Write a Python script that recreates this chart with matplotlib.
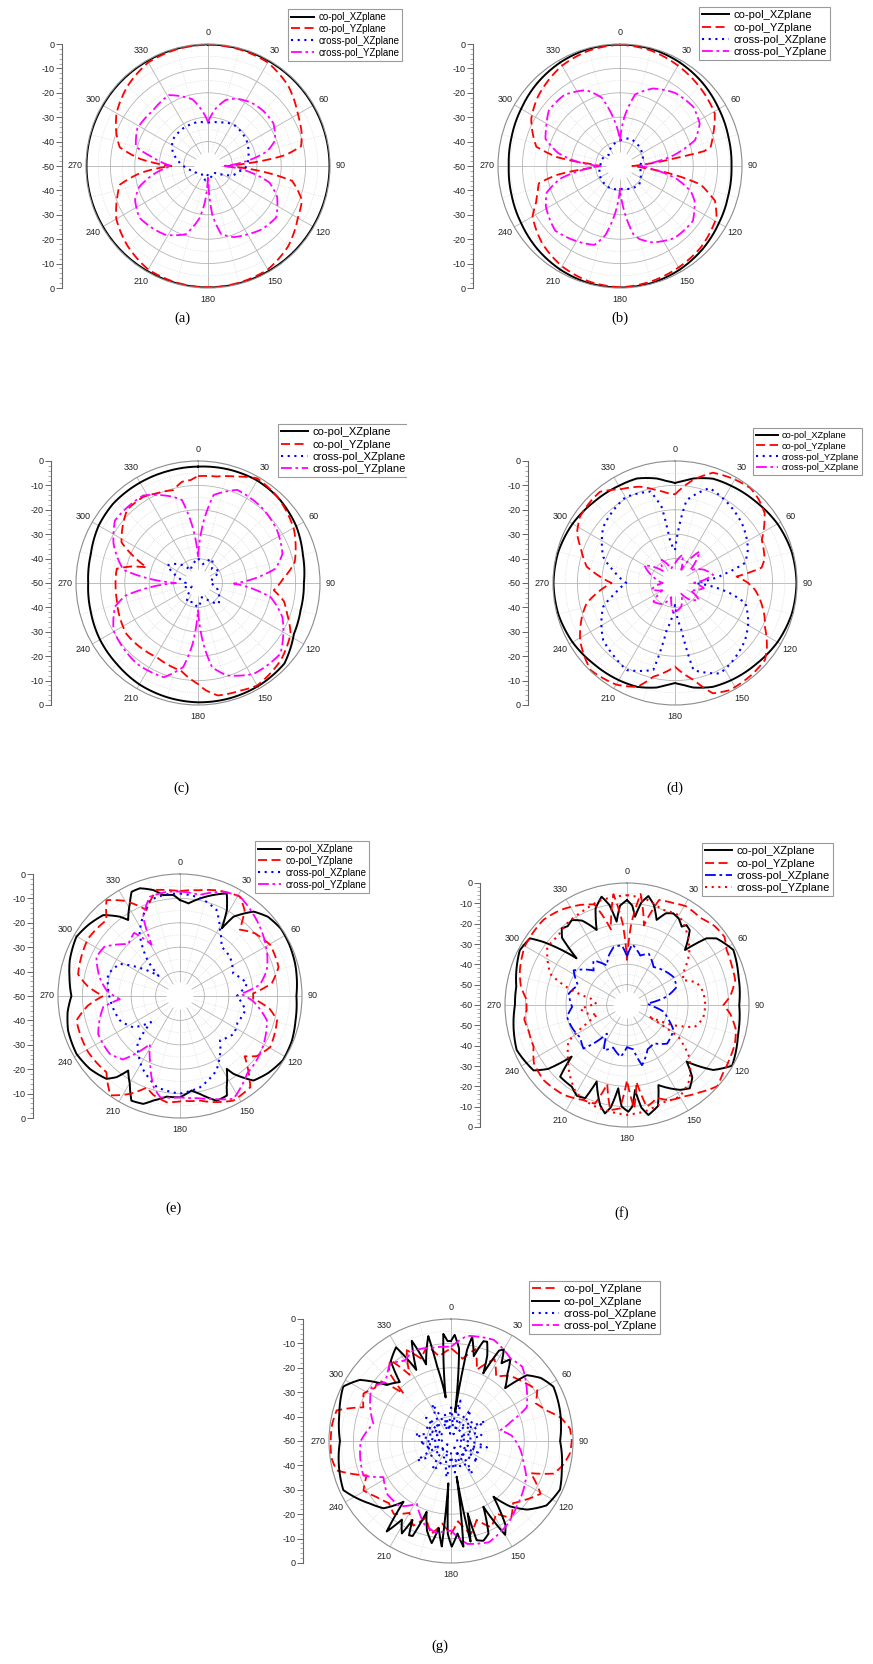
import numpy as np
import matplotlib
matplotlib.use('Agg')
import matplotlib.pyplot as plt
from matplotlib.ticker import MultipleLocator, FixedLocator
from matplotlib.patches import Rectangle, Circle

W, H = 873, 1664
plt.rcParams['font.family'] = ['Liberation Sans', 'DejaVu Sans']

ANGLE_TICKS = [0, 30, 60, 90, 120, 150, 180, 210, 240, 270, 300, 330]
ANGLE_LABELS = ['0', '30', '60', '90', '120', '150', '180', '210', '240', '270', '300', '330']
RADIAL_TICKS_50 = [-50, -40, -30, -20, -10, 0, 10, 20, 30, 40, 50]
RADIAL_LABELS_50 = ['0', '-10', '-20', '-30', '-40', '-50', '-40', '-30', '-20', '-10', '0']
RADIAL_TICKS_60 = [-60, -50, -40, -30, -20, -10, 0, 10, 20, 30, 40, 50, 60]
RADIAL_LABELS_60 = ['0', '-10', '-20', '-30', '-40', '-50', '-60', '-50', '-40', '-30', '-20', '-10', '0']

# ---------------------------------------------------------------- (a)
A_COXZ_DEG = [0, 30, 60, 90, 120, 150, 180, 210, 240, 270, 300, 330, 360]
A_COXZ_DB = [-0.2, -0.3, -0.3, -0.2, -0.3, -0.3, -0.2, -0.3, -0.3, -0.2, -0.3, -0.3, -0.2]
A_COYZ_DEG = [0, 15, 30, 45, 60, 70, 78, 82, 87, 91, 95, 100, 110, 120, 135, 150, 165, 180, 195, 210,
              225, 240, 252, 258, 264, 270, 276, 282, 290, 300, 315, 330, 345, 360]
A_COYZ_DB = [-0.3, -0.5, -1, -3.5, -7.5, -9.2, -11, -18, -37, -42, -30, -15, -9, -7.5, -3.5, -1, -0.5, -0.3,
             -0.5, -1, -3.5, -6.6, -11, -13, -22, -35, -22, -13, -10, -6.7, -3.5, -1, -0.5, -0.3]
A_CXXZ_DEG = [0, 15, 31, 45, 56, 67, 77, 90, 100, 110, 120, 135, 160, 180, 190, 210, 227, 250, 270, 282,
              292, 306, 326, 345, 360]
A_CXXZ_DB = [-32.2, -31.5, -30, -30.5, -31, -32, -33, -34, -37, -39, -43, -46, -45, -47, -44, -46, -45, -44,
             -40, -37, -34.4, -32, -31.5, -31.5, -32.2]
A_CXYZ_DEG = [0, 8, 15, 23, 35, 45, 57, 69, 76, 82, 90, 98, 105, 114, 127, 140, 149, 160, 169, 175, 180,
              185, 189, 198, 212, 233, 245, 253, 262, 270, 279, 285, 298, 315, 331, 347, 355, 360]
A_CXYZ_DB = [-32, -26, -22, -20, -18.5, -18, -18, -20.5, -25, -33, -44, -33, -24, -19, -15, -16, -17.5, -19,
             -21.5, -30, -46, -35, -28.6, -20.6, -16.8, -14.8, -17, -20.5, -28, -35, -27, -19.4, -17.2, -18,
             -16.8, -22, -28, -32]

# ---------------------------------------------------------------- (b)
B_COXZ_DEG = [0, 15, 30, 45, 60, 75, 90, 105, 120, 135, 150, 165, 180, 195, 210, 225, 240, 255, 270, 285,
              300, 315, 330, 345, 360]
B_COXZ_DB = [-0.2, -0.3, -1, -2, -3.2, -4, -4.3, -4, -3.2, -2, -1, -0.3, -0.2, -0.3, -1, -2, -3.2, -4, -4.4,
             -4, -3.2, -2, -1, -0.3, -0.2]
B_COYZ_DEG = [0, 15, 30, 45, 61, 71, 78, 80, 82, 86, 90, 95, 99, 103, 107, 110, 118, 135, 150, 165, 180,
              195, 210, 225, 240, 246, 252, 258, 262, 266, 270, 274, 278, 283, 290, 298, 310, 330, 345, 360]
B_COYZ_DB = [-0.3, -1, -2.5, -4, -5.6, -9.6, -12, -15, -28, -40, -45, -40, -28, -16, -12, -8.6, -5.2, -3, -2,
             -1, -0.3, -1, -2.5, -5, -8.6, -12.3, -14.5, -16, -24, -38, -42, -38, -24, -14.8, -12, -8.8, -6,
             -2.5, -1, -0.3]
B_CXXZ_DEG = [0, 20, 45, 70, 90, 110, 135, 160, 180, 200, 225, 250, 270, 290, 315, 340, 360]
B_CXXZ_DB = [-39.5, -38, -38.8, -40, -42, -41, -39, -40, -40.7, -40, -40.4, -41, -42, -42, -43.5, -41, -39.5]
B_CXYZ_DEG = [0, 5, 12, 23, 37, 51, 62, 71, 79, 85, 90, 96, 103, 110, 115, 127, 143, 157, 165, 169, 175,
              180, 185, 192, 198, 208, 225, 241, 250, 258, 265, 270, 276, 282, 290, 298, 308, 322, 336, 345,
              352, 360]
B_CXYZ_DB = [-39.5, -30, -20, -15.5, -12.5, -11.4, -13, -17.5, -28, -38, -42, -36, -26, -19, -16.3, -12.6,
             -13, -16, -19, -21.6, -32, -40.7, -32, -21, -16, -14.7, -12.5, -15.3, -18, -25, -36, -42, -32,
             -24, -17.5, -15.8, -13, -13, -16, -21, -30, -39.5]

# ---------------------------------------------------------------- (c)
C_COXZ_DEG = [0, 15, 30, 43, 60, 75, 90, 105, 118, 133, 149, 165, 180, 195, 210, 225, 240, 255, 270, 285,
              300, 313, 330, 345, 360]
C_COXZ_DB = [-2.3, -1.8, -1.5, -2, -3.5, -5.5, -6.6, -6.5, -5.5, -1.6, -1.1, -1, -1.1, -1.5, -2, -3, -3.6,
             -4.5, -5, -4.5, -3, -2.4, -2.5, -2.5, -2.3]
C_COYZ_DEG = [0, 10, 20, 29.5, 42.6, 52, 61, 71.5, 78, 87, 95.5, 102, 109, 118.8, 133, 150, 158.5, 170, 176,
              180, 191, 209, 234.5, 258, 268, 280, 284, 287, 292, 298, 316, 327.7, 335, 345, 351, 356, 360]
C_COYZ_DB = [-6.2, -5.7, -3.6, -0.7, -2, -3.5, -5, -7.8, -9.5, -15, -18.8, -14, -11.4, -6.7, -3.6, -1.5,
             -2.6, -3.2, -6, -8.6, -13.4, -15.2, -14, -16, -16.2, -16.2, -22, -28, -22, -14.5, -8.2, -8.2,
             -9.5, -10.6, -8, -7.7, -6.2]
C_CXXZ_DEG = [0, 15, 30, 45, 60, 75, 90, 105, 120, 135, 150, 165, 180, 195, 210, 225, 240, 255, 270, 285,
              300, 315, 330, 345, 360]
C_CXXZ_DB = [-40, -42, -38.5, -42, -40, -44, -45, -42, -40, -38, -42, -44, -40, -42, -41, -45, -47, -44, -45,
             -42, -35.5, -39, -44, -42, -40]
C_CXYZ_DEG = [0, 5, 10, 22.8, 40, 56, 71, 79.5, 91, 101, 112, 130.6, 148.5, 162.6, 170.5, 175, 180, 185, 190,
              200, 217, 240.7, 254, 260, 270, 280, 295, 307, 328, 344, 349, 355, 360]
C_CXYZ_DB = [-39.3, -25, -13.4, -8.6, -9.5, -11, -13.4, -17.7, -35.3, -19.7, -12.7, -5.5, -6.3, -10.3, -15,
             -25, -38.8, -25, -15, -8.9, -8.5, -10.3, -14.6, -19.7, -41, -19, -11.8, -7.4, -7.7, -13.3, -15.3,
             -28, -39.3]

# ---------------------------------------------------------------- (d)
D_COXZ_DEG = [0, 5, 10, 20, 30, 45, 60, 75, 90, 105, 120, 135, 150, 160, 170, 175, 180, 185, 190, 200, 210,
              225, 240, 255, 270, 285, 300, 315, 330, 340, 350, 355, 360]
D_COXZ_DB = [-9, -8, -6.5, -4.5, -4, -3, -1.5, -0.5, -0.2, -0.5, -1.5, -3, -4, -4.7, -6.5, -8, -9, -8, -6.5,
             -4.7, -4, -3, -1.5, -0.5, -0.2, -0.5, -1.5, -3, -4, -4.4, -6.5, -8, -9]
D_COYZ_DEG = [0, 10, 19, 30, 38.6, 45, 52, 63.6, 75, 80, 84, 90, 95, 101, 110, 116, 125, 130.5, 140, 153,
              161, 169, 180, 193, 200, 210, 224, 232, 239, 250, 257, 263, 270, 276, 280.5, 290, 297, 305, 315,
              320.6, 329.6, 340, 347, 355, 360]
D_COYZ_DB = [-13.7, -7.1, -2.2, -1, -0.3, -1.5, -3.4, -10.3, -12, -14, -24.6, -20, -17, -14.5, -11, -9, -4,
             -1.5, -1, -0.7, -2.2, -9.5, -15.7, -10.6, -4.7, -1.9, -0.3, -2.5, -4.6, -9.4, -12.8, -18, -24,
             -18, -13.2, -9, -4.9, -2.5, -1.8, -1.6, -5.5, -8, -10.6, -13, -13.7]
D_CXYZ_DEG = [0, 3, 8, 20, 35, 50.5, 65, 74, 79, 90, 100.6, 106, 118, 129, 145, 153.5, 168, 172, 180, 190,
              194, 209, 220, 231.5, 251.7, 260, 270, 281, 290, 308, 330, 345, 350, 353, 357, 360]
D_CXYZ_DB = [-36.5, -30, -15.7, -8.6, -11, -13.7, -17, -20.2, -28.4, -42.5, -27, -20, -16, -13, -10, -8.6,
             -13.5, -30.3, -41, -30.5, -13.3, -9.2, -11, -12.4, -19, -25, -30, -24.5, -18.7, -12.7, -9.4,
             -11.2, -18.3, -32, -36, -36.5]
D_CXXZ_DEG = [0, 15, 25, 38, 50, 65, 78, 90, 100, 115, 125, 138, 150, 165, 183, 195, 210, 229, 240, 255, 270,
              285, 300, 315, 330, 345, 360]
D_CXXZ_DB = [-42, -38, -44, -33.6, -42, -37, -34, -42, -38, -43, -38, -40.7, -45, -40, -37.6, -44, -40, -38.3,
             -44, -40, -45, -41, -35.5, -43, -39, -44, -42]

# ---------------------------------------------------------------- (e)
E_COXZ_DEG = [0, 5.2, 11.6, 18.3, 24.5, 28.6, 31.7, 34, 41.1, 48, 56.3, 65, 74.3, 90, 102, 112, 121.9, 131,
              139, 145.5, 147.3, 152.9, 154.8, 160.6, 168.4, 173, 180, 187.6, 194.3, 198.8, 204.9, 209.7,
              214.8, 218, 221.6, 231, 240.8, 252.9, 262, 270, 280, 288, 299.7, 308, 316.5, 322.8, 325.7,
              331.6, 335.1, 339.6, 345.8, 350.6, 356.2, 360]
E_COXZ_DB = [-10.7, -11.9, -9.2, -6.4, -3.8, -9.9, -17.4, -10.8, -4.1, -1.5, -0.3, -0.5, -1, -2.3, -1.6, -0.6,
             -0.3, -2, -4.1, -11.3, -14.5, -8, -4.9, -4.5, -9, -11, -8.5, -8.4, -5.8, -3.3, -2.7, -8.5, -12.8,
             -7.8, -4.6, -2.5, -1.4, -2, -3.5, -5.5, -4, -2.5, -1.1, -2.5, -4.3, -9.2, -12.3, -6.8, -2.9,
             -2.9, -5.2, -8.1, -8.5, -10.7]
E_COYZ_DEG = [0, 10, 20, 31, 37, 42, 50, 60.6, 73.6, 82, 88, 92, 98, 104, 119.5, 128, 133, 138, 142.4, 153,
              161, 169, 178, 187, 195, 200, 207, 215, 224, 238.6, 256.7, 264, 270, 276, 282, 302, 316, 322.5,
              330, 338.7, 347.5, 355, 360]
E_COYZ_DB = [-7, -6, -4, -2.4, -6, -13.4, -10, -7.5, -7.9, -12, -20, -20, -13, -9, -7.5, -10, -13.8, -8,
             -2.8, -1.9, -4, -6.3, -7, -6.1, -8, -10.1, -5, -0.3, -6.6, -5.9, -6.4, -12, -18.5, -12, -7.3,
             -5.6, -6.7, -0.5, -5, -12.2, -5.5, -6.5, -7]
E_CXXZ_DEG = [0, 12, 23, 31.3, 40, 52, 67, 79.5, 90, 102, 115, 125, 138, 154, 167.6, 180, 194, 208, 222, 228,
              236, 248, 270, 287, 298, 305, 313, 318, 327, 342.6, 352, 360]
E_CXXZ_DB = [-8, -9, -11.7, -18.4, -23.6, -24, -26.3, -22, -26.7, -22.6, -24, -23, -25.5, -16, -11.7, -10,
             -11.4, -16.8, -24, -34, -27, -23.4, -21, -19.2, -22, -30, -38, -30, -19.6, -8.8, -8, -8]
E_CXYZ_DEG = [0, 11, 22.6, 31, 42, 54.7, 65, 73.5, 82, 88, 94, 105.7, 120.6, 130, 139, 152.5, 162, 170, 180,
              191, 196, 204, 212, 222, 230.5, 245, 261.8, 267, 274, 283, 295, 303, 315, 324, 331, 335, 343,
              352, 360]
E_CXYZ_DB = [-7.2, -7.8, -3.7, -2.4, -5, -8, -10.5, -12.9, -17, -25, -20, -13, -10.3, -9, -8, -2.5, -5.6,
             -7.5, -8.5, -7.7, -11, -20, -26.8, -15, -12.7, -13, -18.2, -25.3, -20, -16.2, -12.2, -13, -20,
             -18, -26, -14.2, -7.5, -7, -7.2]

# ---------------------------------------------------------------- (f)  (scale down to -60 dB)
F_COXZ_DEG = [0, 3, 5.2, 8, 11.1, 15, 19.2, 23, 26.8, 31, 34.9, 36.7, 40, 46.5, 50, 53.4, 62.6, 75.7, 90,
              105, 120, 127, 133.5, 138, 143, 148, 158.6, 163, 169, 172, 174.6, 177, 179.3, 183, 186, 189,
              191.5, 195, 201.6, 204.2, 209, 214, 223, 227, 231, 235, 247.8, 258, 270, 279.4, 297, 304.5,
              307, 312.8, 316, 319.6, 323, 327, 332, 338, 342, 346.8, 350, 352.9, 356, 360]
F_COXZ_DB = [-8.4, -11, -16.4, -9, -5.4, -9, -15.7, -11, -9.5, -10.5, -13, -11, -12, -20.7, -9, -5.1, -1.1,
             -3.4, -4.8, -3.5, -0.3, -6.9, -19.5, -12, -8.7, -10.8, -17.7, -8, -4.9, -9, -18, -10, -7.5, -10,
             -18.8, -9, -5.6, -9, -19.5, -9.7, -9, -11.5, -11.8, -22.8, -10, -3.9, -1.4, -3, -4.9, -4.8,
             -0.8, -2.1, -8.4, -26.2, -14, -10.5, -11.5, -10.2, -13, -20.2, -10, -5.3, -10, -18.7, -11, -8.4]
F_COYZ_DEG = [0, 3, 7, 12, 17, 24, 31, 40, 48, 55, 61, 70, 77, 85, 90, 95, 103, 110, 118, 126, 132, 140,
              148, 156, 162, 169, 173, 176, 180, 184, 189, 194, 198, 205, 215, 228, 238, 246, 255, 262, 267,
              273, 280, 288, 300, 315.5, 325, 335, 342, 348, 353, 357, 360]
F_COYZ_DB = [-38, -20, -5, -20, -6, -5, -3.4, -4, -2, -1.5, -4, -5, -5.4, -9, -12.6, -9, -5, -3.6, -3, -2,
             -0.3, -4, -7, -8.7, -12, -9, -22, -9, -23, -9, -7.7, -20, -9, -8.5, -6, -4.8, -6, -9.7, -10, -9,
             -10.6, -10.6, -7, -4.6, -2, -1.3, -3, -5.7, -8, -22, -5.1, -20, -38]
F_CXXZ_DEG = [0, 5, 15, 23, 35, 48, 59, 70, 78, 86, 92, 100, 110, 118.5, 134, 145, 155, 166, 172, 180, 187,
              198, 207, 215, 225, 235, 244.6, 258.7, 268, 281, 292, 303, 316, 323, 333, 340, 347, 355, 360]
F_CXXZ_DB = [-36, -30, -34.8, -32.6, -37.2, -35, -33.3, -34, -40, -50, -48, -42, -38, -34, -32.6, -37, -36,
             -29.5, -38, -39.3, -34.3, -38, -35, -42.8, -29.7, -32, -31, -29.9, -33, -30.8, -34, -28.7,
             -36.4, -32.6, -38.2, -34, -30.8, -30.5, -36]
F_CXYZ_DEG = [0, 10, 20, 30, 40, 50, 60, 66, 72, 80, 90, 100, 108, 114, 118, 122, 130, 140, 150, 160, 170,
              180, 190, 200, 210, 220, 230, 238, 245, 252, 258, 265, 272, 280, 286, 292, 306, 315, 325, 335,
              345, 360]
F_CXYZ_DB = [-6, -7, -10, -9, -14, -20, -28, -30, -24, -22, -21.5, -22, -25, -36, -48, -30, -20, -12, -8, -9,
             -7, -6, -7, -8, -10, -16, -22, -26, -38, -45, -40, -37, -45, -42, -30, -19.3, -11.5, -12, -10,
             -9, -7, -6]

# ---------------------------------------------------------------- (g)
G_COYZ_DEG = [0, 8, 15, 20, 28, 35, 42, 50, 59.5, 66, 72, 78, 84, 90, 96, 102, 107.6, 112, 120.5, 128, 135,
              142, 148, 155, 162, 168, 175, 180, 186, 192, 198, 204, 210, 218, 225, 232.9, 240.5, 247.8,
              255.6, 262, 270, 278, 285, 291, 298.5, 305, 310, 315, 318, 323, 328, 334, 340, 346, 352, 360]
G_COYZ_DB = [-12, -16, -11, -19, -12, -17.8, -14, -12, -9, -12, -9.2, -4, -1, -0.5, -1, -3, -5.8, -14.8,
             -7.4, -11, -14, -10, -15, -11, -16, -11, -17, -12, -16, -11, -17, -12, -16, -12, -14, -11.9,
             -8.8, -12.7, -1.6, -0.5, -0.7, -0.8, -1.5, -11.5, -9.2, -12, -11.2, -22.6, -12, -8.5, -18, -8.6,
             -14, -10, -15, -12]
G_COXZ_DEG = [0, 2, 5, 8, 10, 11.5, 15, 18, 20, 23, 25.5, 28, 30, 33, 36, 40, 45.7, 49, 55, 62, 74, 90, 105,
              114, 124, 132, 138, 142.7, 147, 150, 153.8, 158, 162, 165.5, 167, 169, 171, 173.3, 176, 179.6,
              182, 183.6, 185, 188, 190.7, 195, 199, 202, 204, 206, 208, 212, 215.4, 218, 225, 232.4, 245.5,
              258, 270, 283, 296.8, 303.8, 311, 319, 323, 329.6, 334, 338.6, 342, 347.8, 349.5, 353, 355.9,
              358, 360]
G_COXZ_DB = [-9, -6.5, -12, -38, -12, -6.4, -14, -7, -6.7, -12, -19.3, -8, -6.7, -12, -8.6, -14, -19, -8.9,
             -5, -2.5, -3.6, -5.3, -3, -1.1, -2.8, -8, -14, -21.3, -9, -5.6, -20, -9, -7, -8, -19.5, -8,
             -35.2, -6.4, -12, -6.7, -12, -32.6, -6.6, -14, -7.4, -12, -19.3, -8, -7.7, -14, -7.1, -12, -4.5,
             -18.4, -11, -8, -1.5, -3, -4.5, -3, -0.5, -5, -15, -18, -9, -5.5, -17.6, -5.9, -17, -6, -19, -32,
             -6, -9, -9]
G_CXXZ_DEG = [0, 6, 13, 20, 26, 33, 40, 47, 53, 60, 66, 73, 80, 86, 93, 100, 106, 113, 120, 127, 133, 140,
              147, 153, 160, 167, 173, 180, 187, 193, 200, 207, 213, 220, 227, 233, 240, 247, 253, 260, 267,
              273, 280, 287, 293, 300, 307, 313, 320, 327, 333, 340, 347, 353, 360]
G_CXXZ_DB = [-36, -44, -33, -47, -40, -35, -45, -38, -42, -34, -46, -39, -37, -48, -41, -35, -43, -38, -46,
             -36, -40, -44, -34, -47, -39, -42, -37, -45, -35, -41, -46, -38, -36, -43, -48, -40, -34, -45,
             -39, -42, -37, -47, -35, -41, -44, -38, -46, -36, -43, -40, -33, -45, -39, -47, -36]
G_CXYZ_DEG = [0, 8.7, 23, 35.8, 43.8, 52, 60, 66, 72, 77.8, 85, 97.7, 107.3, 115, 125, 135, 145, 159.5, 171,
              180, 190, 198, 208.5, 218, 230, 241.9, 248.5, 260, 270, 282.6, 293, 304, 312, 321.9, 330, 337.6,
              348, 360]
G_CXYZ_DB = [-11.4, -6.4, -5, -8.3, -7.8, -11, -14, -16, -24, -29.3, -25, -21.2, -18.8, -16, -14, -12, -9,
             -5.7, -7.3, -13.3, -12, -14.3, -20.7, -16, -16, -18.6, -11.4, -12.2, -13, -17.4, -14, -10.7, -14,
             -9.6, -12, -9.8, -11, -11.4]

STYLES = {
    'black': dict(color='black', lw=1.4, ls='-'),
    'red_dash': dict(color='#ff0000', lw=1.3, ls=(0, (5, 2.5))),
    'blue_dot': dict(color='#0000ff', lw=1.5, ls=(0, (1, 2.2))),
    'mag_dashdot': dict(color='#ff00ff', lw=1.3, ls=(0, (6, 2, 1.5, 2))),
    'blue_dashdot': dict(color='#0000ff', lw=1.3, ls=(0, (6, 2, 1.5, 2))),
    'red_dot': dict(color='#ff0000', lw=1.5, ls=(0, (1, 2.2))),
}

R = 122  # polar radius in pixels


def fx(px):
    return px / W


def fy(py):
    return 1 - py / H


def polar_panel(fig, cx, cy, rmin, curves, axis_x, leg_xy, leg_fs, tag, tag_xy):
    ax = fig.add_axes([fx(cx - R), fy(cy + R), 2 * R / W, 2 * R / H], projection='polar')
    ax.set_theta_zero_location('N')
    ax.set_theta_direction(-1)
    ax.set_ylim(rmin, 0)
    ax.set_xticks(np.deg2rad(ANGLE_TICKS))
    ax.set_xticklabels(ANGLE_LABELS, fontsize=6.5, color='#222222')
    ax.xaxis.set_minor_locator(FixedLocator(np.deg2rad(np.arange(15, 360, 30))))
    ax.set_yticks(np.arange(rmin + 10, 0, 10))
    ax.yaxis.set_minor_locator(FixedLocator(np.arange(rmin + 5, 0, 10)))
    ax.set_yticklabels([])
    ax.grid(True, which='major', color='#b4b4b4', lw=0.6, ls='-')
    ax.grid(True, which='minor', color='#d4d4d4', lw=0.5, ls=':')
    ax.tick_params(axis='x', which='both', length=0, pad=1)
    ax.tick_params(axis='y', which='both', length=0)
    ax.spines['polar'].set_color('#8c8c8c')
    ax.spines['polar'].set_linewidth(0.8)
    # spokes stop short of the pole
    ax.add_patch(Circle((0.5, 0.5), 0.055, transform=ax.transAxes, facecolor='white',
                        edgecolor='none', zorder=1.8))

    handles = []
    for deg, db, key, label in curves:
        line, = ax.plot(np.deg2rad(deg), db, label=label, **STYLES[key])
        # follow the polar arcs between samples instead of chords
        line.get_path()._interpolation_steps = 24
        handles.append(line)

    # linear dB scale standing left of the polar plot
    span = -rmin
    lax = fig.add_axes([fx(axis_x), fy(cy + R), 0.0005, 2 * R / H])
    lax.set_ylim(-span, span)
    if rmin == -60:
        lax.set_yticks(RADIAL_TICKS_60)
        lax.set_yticklabels(RADIAL_LABELS_60)
    else:
        lax.set_yticks(RADIAL_TICKS_50)
        lax.set_yticklabels(RADIAL_LABELS_50)
    lax.yaxis.set_minor_locator(MultipleLocator(2))
    lax.set_xticks([])
    for s in ['top', 'right', 'bottom']:
        lax.spines[s].set_visible(False)
    lax.spines['left'].set_color('#666666')
    lax.spines['left'].set_linewidth(0.8)
    lax.patch.set_alpha(0)
    lax.tick_params(axis='y', which='major', direction='out', length=4, width=0.7,
                    color='#666666', labelsize=6.5, labelcolor='#222222', pad=1.5)
    lax.tick_params(axis='y', which='minor', direction='out', length=2, width=0.5, color='#888888')

    leg = fig.legend(handles, [c[3] for c in curves], loc='upper left',
                     bbox_to_anchor=(fx(leg_xy[0]), fy(leg_xy[1])), borderaxespad=0,
                     fontsize=leg_fs, frameon=True, fancybox=False, edgecolor='#9a9a9a',
                     framealpha=1, handlelength=2.4, handletextpad=0.4, labelspacing=0.2,
                     borderpad=0.3)
    leg.get_frame().set_linewidth(0.8)

    fig.text(fx(tag_xy[0]), fy(tag_xy[1]), tag, fontsize=10.5, ha='center', va='center',
             family=['Liberation Serif', 'DejaVu Serif'])
    return ax


fig = plt.figure(figsize=(W / 100, H / 100), dpi=100)
fig.patch.set_facecolor('white')

polar_panel(fig, 208, 166, -50, [
    (A_COXZ_DEG, A_COXZ_DB, 'black', 'co-pol_XZplane'),
    (A_COYZ_DEG, A_COYZ_DB, 'red_dash', 'co-pol_YZplane'),
    (A_CXXZ_DEG, A_CXXZ_DB, 'blue_dot', 'cross-pol_XZplane'),
    (A_CXYZ_DEG, A_CXYZ_DB, 'mag_dashdot', 'cross-pol_YZplane'),
], axis_x=62, leg_xy=(288, 9), leg_fs=7, tag='(a)', tag_xy=(182, 318))

polar_panel(fig, 620, 166, -50, [
    (B_COXZ_DEG, B_COXZ_DB, 'black', 'co-pol_XZplane'),
    (B_COYZ_DEG, B_COYZ_DB, 'red_dash', 'co-pol_YZplane'),
    (B_CXXZ_DEG, B_CXXZ_DB, 'blue_dot', 'cross-pol_XZplane'),
    (B_CXYZ_DEG, B_CXYZ_DB, 'mag_dashdot', 'cross-pol_YZplane'),
], axis_x=473, leg_xy=(699, 7), leg_fs=8, tag='(b)', tag_xy=(620, 318))

polar_panel(fig, 198, 583, -50, [
    (C_COXZ_DEG, C_COXZ_DB, 'black', 'co-pol_XZplane'),
    (C_COYZ_DEG, C_COYZ_DB, 'red_dash', 'co-pol_YZplane'),
    (C_CXXZ_DEG, C_CXXZ_DB, 'blue_dot', 'cross-pol_XZplane'),
    (C_CXYZ_DEG, C_CXYZ_DB, 'mag_dashdot', 'cross-pol_YZplane'),
], axis_x=51, leg_xy=(278, 424), leg_fs=8, tag='(c)', tag_xy=(181, 788))
# the (c) legend box is cut off at its right edge
fig.add_artist(Rectangle((fx(407), fy(495)), fx(440) - fx(407), 75 / H, transform=fig.transFigure,
                         facecolor='white', edgecolor='none', zorder=10))

polar_panel(fig, 675, 583, -50, [
    (D_COXZ_DEG, D_COXZ_DB, 'black', 'co-pol_XZplane'),
    (D_COYZ_DEG, D_COYZ_DB, 'red_dash', 'co-pol_YZplane'),
    (D_CXYZ_DEG, D_CXYZ_DB, 'blue_dot', 'cross-pol_YZplane'),
    (D_CXXZ_DEG, D_CXXZ_DB, 'mag_dashdot', 'cross-pol_XZplane'),
], axis_x=528, leg_xy=(753, 428), leg_fs=6.7, tag='(d)', tag_xy=(675, 788))

polar_panel(fig, 180, 996, -50, [
    (E_COXZ_DEG, E_COXZ_DB, 'black', 'co-pol_XZplane'),
    (E_COYZ_DEG, E_COYZ_DB, 'red_dash', 'co-pol_YZplane'),
    (E_CXXZ_DEG, E_CXXZ_DB, 'blue_dot', 'cross-pol_XZplane'),
    (E_CXYZ_DEG, E_CXYZ_DB, 'mag_dashdot', 'cross-pol_YZplane'),
], axis_x=33, leg_xy=(255, 841), leg_fs=7, tag='(e)', tag_xy=(173, 1208))

polar_panel(fig, 627, 1005, -60, [
    (F_COXZ_DEG, F_COXZ_DB, 'black', 'co-pol_XZplane'),
    (F_COYZ_DEG, F_COYZ_DB, 'red_dash', 'co-pol_YZplane'),
    (F_CXXZ_DEG, F_CXXZ_DB, 'blue_dashdot', 'cross-pol_XZplane'),
    (F_CXYZ_DEG, F_CXYZ_DB, 'red_dot', 'cross-pol_YZplane'),
], axis_x=480, leg_xy=(702, 843), leg_fs=8, tag='(f)', tag_xy=(622, 1213))

polar_panel(fig, 451, 1441, -50, [
    (G_COYZ_DEG, G_COYZ_DB, 'red_dash', 'co-pol_YZplane'),
    (G_COXZ_DEG, G_COXZ_DB, 'black', 'co-pol_XZplane'),
    (G_CXXZ_DEG, G_CXXZ_DB, 'blue_dot', 'cross-pol_XZplane'),
    (G_CXYZ_DEG, G_CXYZ_DB, 'mag_dashdot', 'cross-pol_YZplane'),
], axis_x=303, leg_xy=(529, 1281), leg_fs=8, tag='(g)', tag_xy=(440, 1646))

fig.savefig('out.png', dpi=100, facecolor='white')
